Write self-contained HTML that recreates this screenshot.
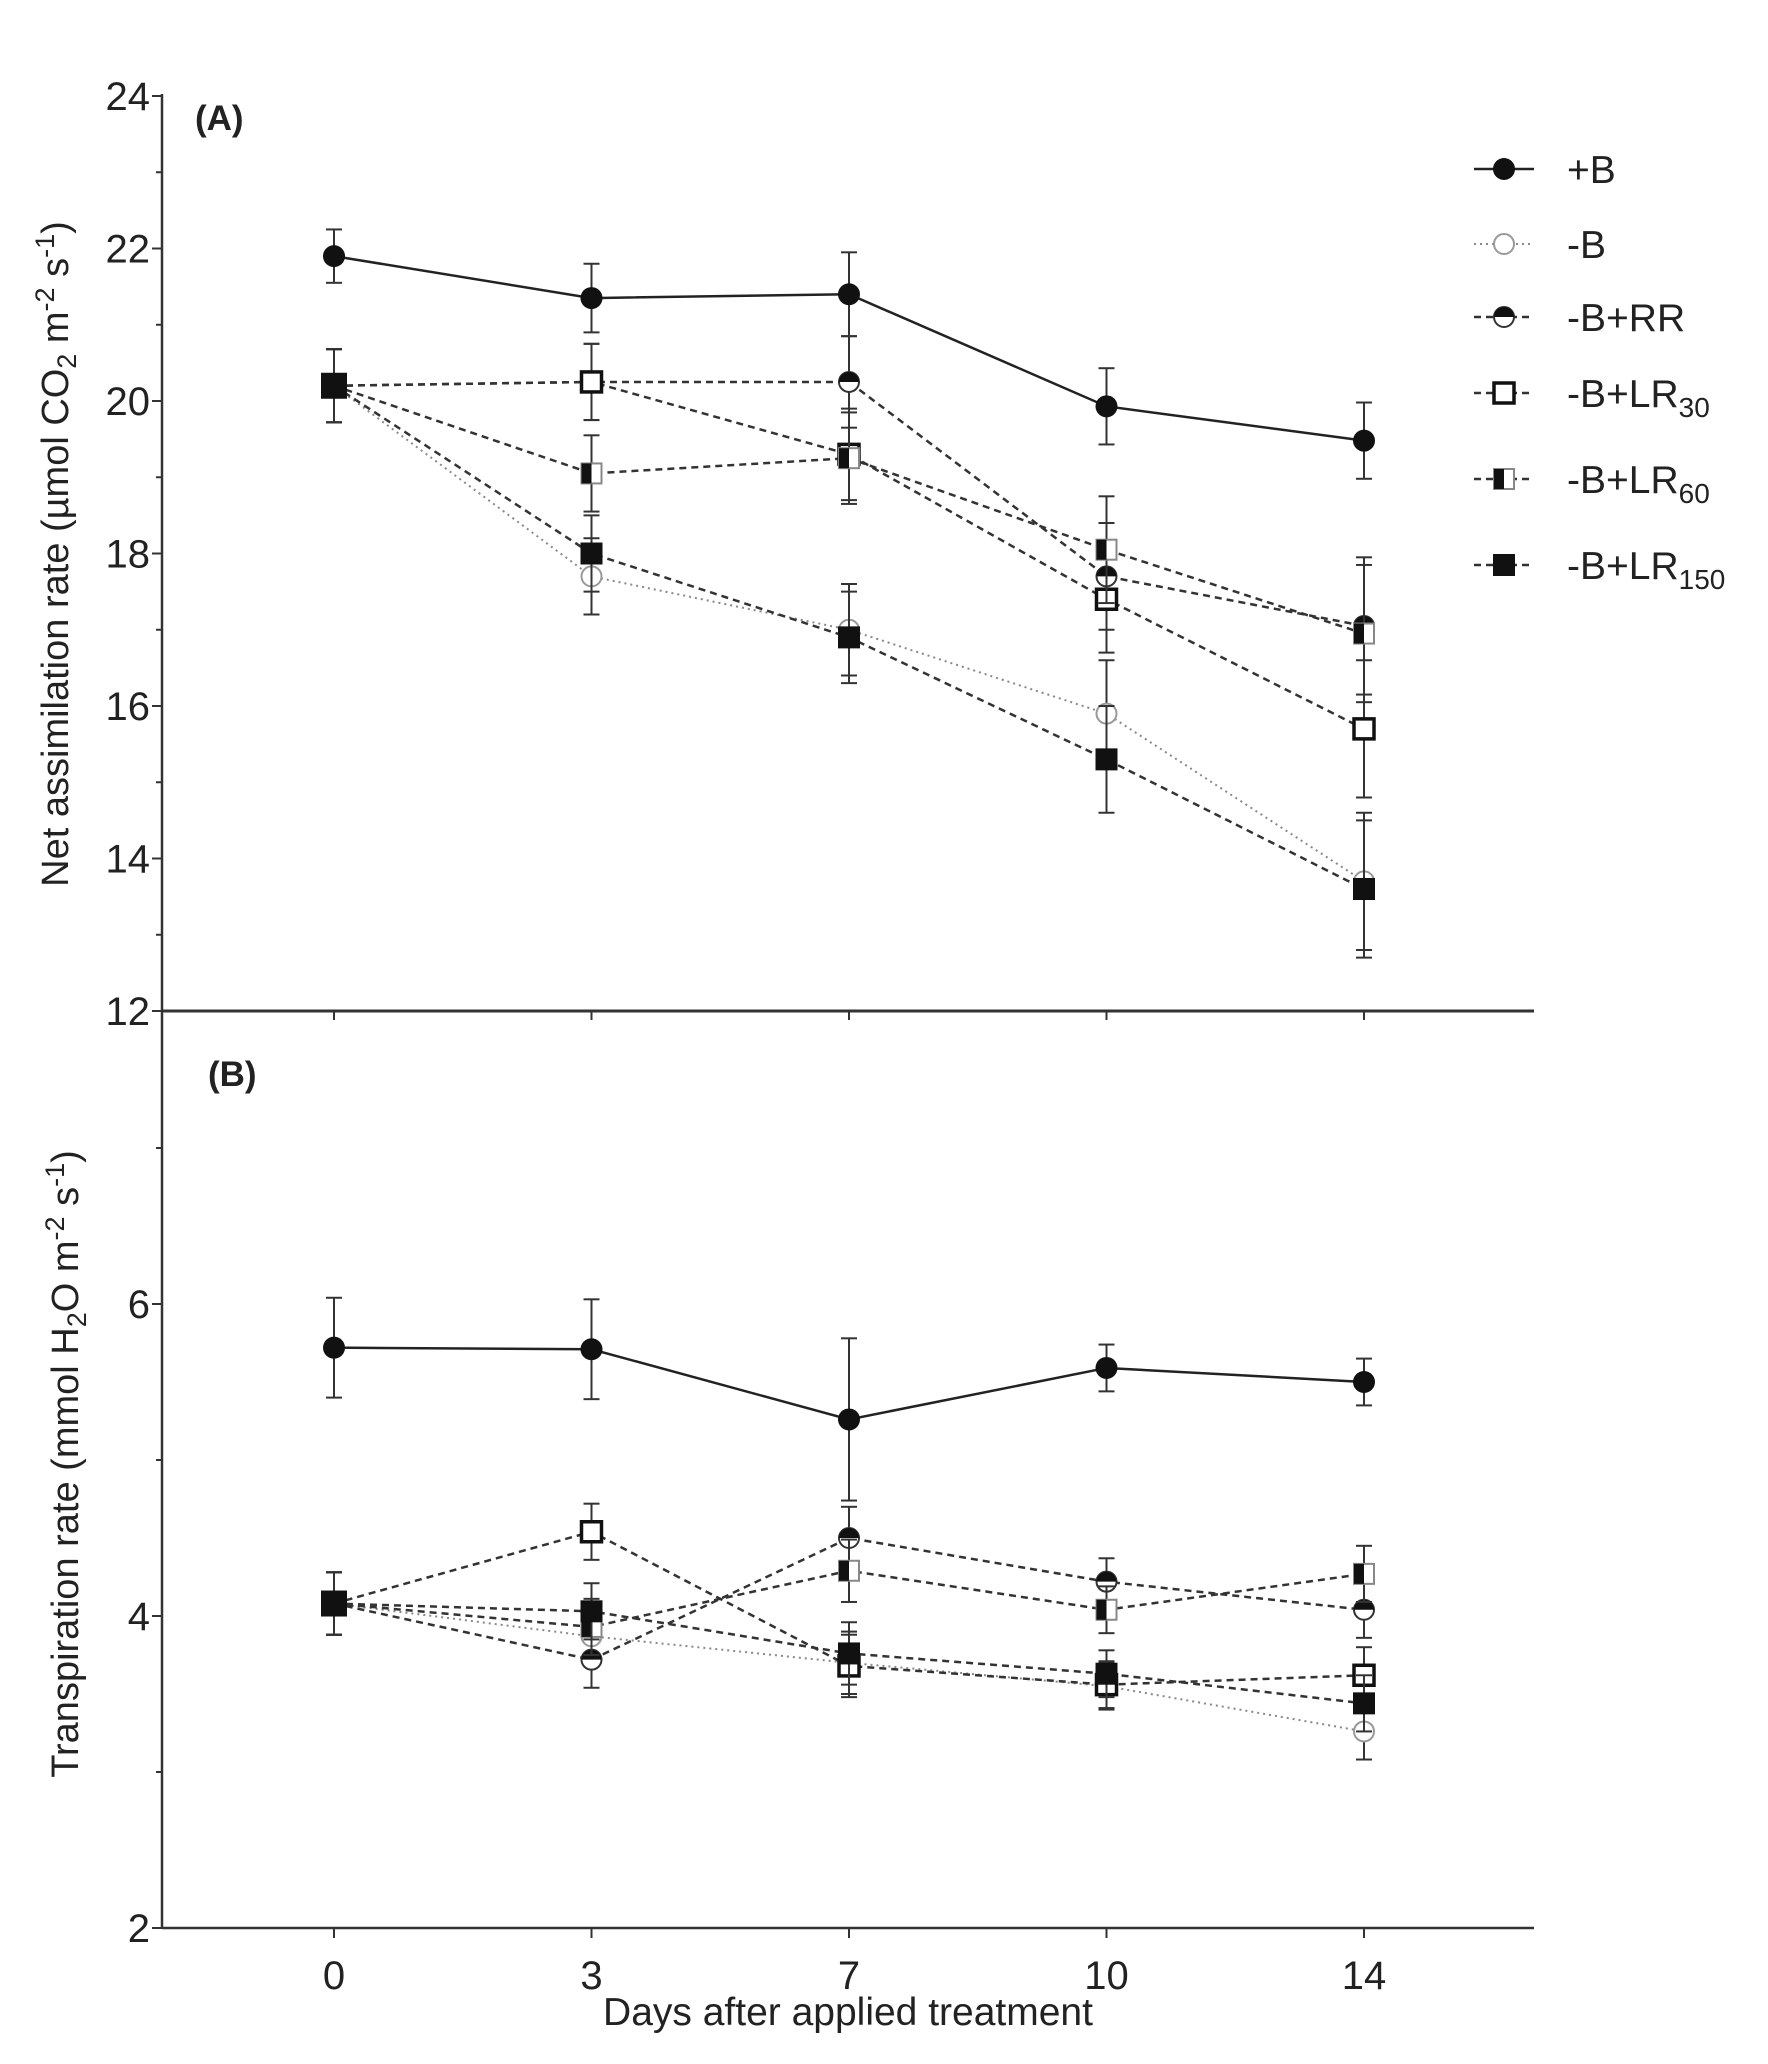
<!DOCTYPE html>
<html><head><meta charset="utf-8"><style>
html,body{margin:0;padding:0;background:#fff}
svg{display:block;font-family:"Liberation Sans",Arial,sans-serif}
</style></head><body>
<svg id="chart" width="1768" height="2064" viewBox="0 0 1768 2064" xmlns="http://www.w3.org/2000/svg"></svg>
<script>
const categories = ["0","3","7","10","14"];
const seriesNames = ["+B","-B","-B+RR","-B+LR30","-B+LR60","-B+LR150"];
const aPlusB = [21.9,21.35,21.4,19.93,19.48];
const aPlusBErr = [0.35,0.45,0.55,0.5,0.5];
const aMinusB = [20.2,17.7,17.0,15.9,13.7];
const aRR = [20.2,20.25,20.25,17.7,17.05];
const aLR30 = [20.2,20.25,19.3,17.4,15.7];
const aLR60 = [20.2,19.05,19.25,18.05,16.95];
const aLR150 = [20.2,18.0,16.9,15.3,13.6];
const aOtherErr = [0.48,0.5,0.6,0.7,0.9];
const bPlusB = [5.72,5.71,5.26,5.59,5.50];
const bPlusBErr = [0.32,0.32,0.52,0.15,0.15];
const bMinusB = [4.08,3.87,3.70,3.55,3.26];
const bRR = [4.08,3.72,4.50,4.22,4.04];
const bLR30 = [4.08,4.54,3.68,3.56,3.62];
const bLR60 = [4.08,3.93,4.29,4.04,4.27];
const bLR150 = [4.08,4.03,3.76,3.63,3.44];
const bOtherErr = [0.2,0.18,0.2,0.15,0.18];
const aTicks = [12,14,16,18,20,22,24];
const bTicks = [2,4,6];

const NS="http://www.w3.org/2000/svg";
const svg=document.getElementById('chart');
function mk(tag,attrs,parent){const e=document.createElementNS(NS,tag);for(const k in attrs)e.setAttribute(k,attrs[k]);(parent||svg).appendChild(e);return e;}
const X0=162, X1=1534;
function xs(i){return 334+i*257.5;}
function ya(v){return 1011-(v-12)*76.25;}
function yb(v){return 1928-(v-2)*156;}

let g=mk('g',{});
mk('line',{x1:X0,y1:94,x2:X0,y2:1928,stroke:'#333','stroke-width':2.5},g);
mk('line',{x1:X0,y1:1011,x2:X1,y2:1011,stroke:'#333','stroke-width':3},g);
mk('line',{x1:X0,y1:1928,x2:X1,y2:1928,stroke:'#333','stroke-width':2.5},g);
for(let v=12;v<=24;v++){const y=ya(v);mk('line',{x1:X0-(v%2?6:10),y1:y,x2:X0,y2:y,stroke:'#333','stroke-width':2},g);}
aTicks.forEach(v=>{const t=mk('text',{x:X0-12,y:ya(v)+14,'text-anchor':'end','font-size':40,fill:'#222'},g);t.textContent=v;});
for(let v=2;v<=7;v++){const y=yb(v);mk('line',{x1:X0-(v%2?6:10),y1:y,x2:X0,y2:y,stroke:'#333','stroke-width':2},g);}
bTicks.forEach(v=>{const t=mk('text',{x:X0-12,y:yb(v)+14,'text-anchor':'end','font-size':40,fill:'#222'},g);t.textContent=v;});
categories.forEach((c,i)=>{const x=xs(i);
 mk('line',{x1:x,y1:1011,x2:x,y2:1020,stroke:'#333','stroke-width':2},g);
 mk('line',{x1:x,y1:1928,x2:x,y2:1938,stroke:'#333','stroke-width':2},g);
 const t=mk('text',{x:x,y:1989,'text-anchor':'middle','font-size':40,fill:'#222'},g);t.textContent=c;
 });

let t=mk('text',{x:848,y:2025,'text-anchor':'middle','font-size':39,fill:'#222'});t.textContent='Days after applied treatment';

t=mk('text',{transform:'translate(68,554) rotate(-90)','text-anchor':'middle','font-size':38,fill:'#222'});
t.innerHTML='Net assimilation rate (µmol CO<tspan font-size="27" dy="8">2</tspan><tspan dy="-8"> m</tspan><tspan font-size="27" dy="-14">-2</tspan><tspan dy="14"> s</tspan><tspan font-size="27" dy="-14">-1</tspan><tspan dy="14">)</tspan>';

t=mk('text',{transform:'translate(78,1464) rotate(-90)','text-anchor':'middle','font-size':38,fill:'#222'});
t.innerHTML='Transpiration rate (mmol H<tspan font-size="27" dy="8">2</tspan><tspan dy="-8">O m</tspan><tspan font-size="27" dy="-14">-2</tspan><tspan dy="14"> s</tspan><tspan font-size="27" dy="-14">-1</tspan><tspan dy="14">)</tspan>';

t=mk('text',{x:195,y:130,'font-size':35,'font-weight':'bold',fill:'#222'});t.textContent='(A)';

t=mk('text',{x:208,y:1086,'font-size':35,'font-weight':'bold',fill:'#222'});t.textContent='(B)';


const styles=[
 {dash:'',col:'#222',w:2.5,m:'fcircle'},
 {dash:'2,4',col:'#888',w:2,m:'ocircle'},
 {dash:'7,5',col:'#333',w:2.5,m:'hcircle'},
 {dash:'7,5',col:'#333',w:2.5,m:'osquare'},
 {dash:'7,5',col:'#333',w:2.5,m:'hsquare'},
 {dash:'7,5',col:'#333',w:2.5,m:'fsquare'}];
function marker(type,x,y,p,s){
 const r=s||11;
 if(type==='fcircle')mk('circle',{cx:x,cy:y,r:r,fill:'#111'},p);
 else if(type==='ocircle')mk('circle',{cx:x,cy:y,r:r-1,fill:'#fff',stroke:'#999','stroke-width':2},p);
 else if(type==='hcircle'){mk('circle',{cx:x,cy:y,r:r-1,fill:'#fff',stroke:'#333','stroke-width':2},p);mk('path',{d:`M${x-r+1},${y} A${r-1},${r-1} 0 0 1 ${x+r-1},${y} Z`,fill:'#111'},p);}
 else if(type==='osquare')mk('rect',{x:x-r+1,y:y-r+1,width:2*r-2,height:2*r-2,fill:'#fff',stroke:'#111','stroke-width':3.5},p);
 else if(type==='hsquare'){mk('rect',{x:x-r+1,y:y-r+1,width:2*r-2,height:2*r-2,fill:'#fff',stroke:'#888','stroke-width':2},p);mk('rect',{x:x-r+1,y:y-r+1,width:r-1,height:2*r-2,fill:'#111'},p);}
 else mk('rect',{x:x-r,y:y-r,width:2*r,height:2*r,fill:'#111'},p);
}
function drawSeries(vals,errs,sc,st,name){
 const p=mk('g',{});
 mk('polyline',{points:vals.map((v,i)=>xs(i)+','+sc(v)).join(' '),fill:'none',stroke:st.col,'stroke-width':st.w,'stroke-dasharray':st.dash},p);
 vals.forEach((v,i)=>{const x=xs(i),e=errs[i];
  mk('line',{x1:x,y1:sc(v+e),x2:x,y2:sc(v-e),stroke:'#333','stroke-width':2},p);
  mk('line',{x1:x-8,y1:sc(v+e),x2:x+8,y2:sc(v+e),stroke:'#333','stroke-width':2},p);
  mk('line',{x1:x-8,y1:sc(v-e),x2:x+8,y2:sc(v-e),stroke:'#333','stroke-width':2},p);});
 vals.forEach((v,i)=>marker(st.m,xs(i),sc(v),p,i===0&&st.m==='fsquare'?13:11));
}
const aData=[aPlusB,aMinusB,aRR,aLR30,aLR60,aLR150];
const bData=[bPlusB,bMinusB,bRR,bLR30,bLR60,bLR150];
[1,2,3,4,5,0].forEach(k=>{drawSeries(aData[k],k===0?aPlusBErr:aOtherErr,ya,styles[k],'series-a-'+k);
 drawSeries(bData[k],k===0?bPlusBErr:bOtherErr,yb,styles[k],'series-b-'+k);});

const legY=[169,244,317,393,479,565];
const lg=mk('g',{});
seriesNames.forEach((n,i)=>{const e=mk('g',{},lg);
 const st=styles[i],y=legY[i];
 mk('line',{x1:1474,y1:y,x2:1534,y2:y,stroke:st.col,'stroke-width':st.w,'stroke-dasharray':st.dash},e);
 marker(st.m,1504,y,e,11);
 const tx=mk('text',{x:1567,y:y+14,'font-size':39,fill:'#222'},e);
 const m=n.match(/^(.*LR)(\d+)$/);
 if(m)tx.innerHTML=m[1]+'<tspan font-size="28" dy="10">'+m[2]+'</tspan>';else tx.textContent=n;});
</script>
</body></html>
